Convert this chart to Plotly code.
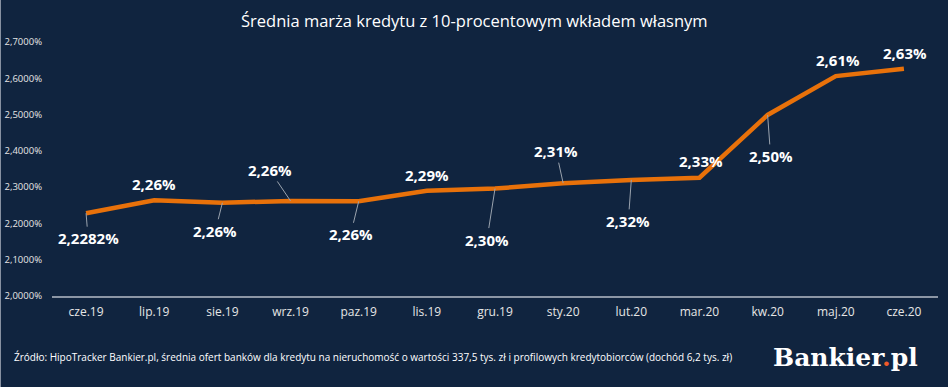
import plotly.graph_objects as go

categories = ["cze.19", "lip.19", "sie.19", "wrz.19", "paz.19", "lis.19", "gru.19",
              "sty.20", "lut.20", "mar.20", "kw.20", "maj.20", "cze.20"]
values = [2.2282, 2.264, 2.257, 2.262, 2.261, 2.290, 2.296, 2.311, 2.320, 2.326, 2.499, 2.606, 2.626]
labels = ["2,2282%", "2,26%", "2,26%", "2,26%", "2,26%", "2,29%", "2,30%",
          "2,31%", "2,32%", "2,33%", "2,50%", "2,61%", "2,63%"]
y_tick_vals = [2.0, 2.1, 2.2, 2.3, 2.4, 2.5, 2.6, 2.7]
y_tick_text = ["2,0000%", "2,1000%", "2,2000%", "2,3000%", "2,4000%", "2,5000%", "2,6000%", "2,7000%"]

# label placement (pixel offsets from point to label centre, leader line flag)
label_offsets = [(2, 25, True), (0, -16, False), (-7, 28, True), (-21, -31, True),
                 (-8, 33, True), (0, -16, False), (-8, 51, True), (-7, -32, True),
                 (-3, 41, True), (2, -17, False), (3, 41, True), (2, -16, False),
                 (1, -16, False)]

BG = "#10243F"
ORANGE = "#E8710A"

fig = go.Figure()
fig.add_trace(go.Scatter(
    x=categories, y=values, mode="lines",
    line=dict(color=ORANGE, width=4.5), hoverinfo="skip", showlegend=False,
))

for cat, val, lab, (dx, dy, leader) in zip(categories, values, labels, label_offsets):
    if leader:
        fig.add_annotation(x=cat, y=val, text=lab, showarrow=True, ax=dx, ay=dy,
                           arrowhead=0, arrowwidth=1, arrowcolor="#9AA3AE", standoff=0,
                           font=dict(family="Open Sans", size=15, color="white", weight="bold"))
    else:
        fig.add_annotation(x=cat, y=val, text=lab, showarrow=False, xshift=dx, yshift=-dy,
                           font=dict(family="Open Sans", size=15, color="white", weight="bold"))

fig.add_annotation(xref="paper", yref="paper", x=0.5, y=1, xanchor="center", yanchor="middle",
                   text="Średnia marża kredytu z 10-procentowym wkładem własnym", showarrow=False,
                   yshift=22, xshift=-21, font=dict(family="Open Sans", size=16.5, color="white"))

fig.add_annotation(xref="paper", yref="paper", x=-0.045, y=0, xanchor="left", yanchor="middle",
                   yshift=-61, showarrow=False,
                   text="Źródło: HipoTracker Bankier.pl, średnia ofert banków dla kredytu na nieruchomość o wartości 337,5 tys. zł i profilowych kredytobiorców (dochód 6,2 tys. zł)",
                   font=dict(family="Open Sans", size=10, color="white"))

fig.add_annotation(xref="paper", yref="paper", x=1, y=0, xanchor="right", yanchor="middle",
                   yshift=-61, xshift=-18, showarrow=False,
                   text="Bankier<span style='color:#F05A28'>.</span>pl",
                   font=dict(family="DejaVu Serif", size=25, color="white", weight="bold"))

fig.update_layout(
    width=948, height=387,
    paper_bgcolor=BG, plot_bgcolor=BG,
    margin=dict(l=52, r=10, t=42, b=91, autoexpand=False),
    xaxis=dict(showgrid=False, showline=True, linecolor="#8C96A5", linewidth=1.5,
               ticks="", tickfont=dict(family="Open Sans", size=12, color="#E6E6E6"),
               range=[-0.5, 12.5], zeroline=False, automargin=False, ticklabelstandoff=4),
    yaxis=dict(showgrid=False, range=[2.0, 2.7], tickvals=y_tick_vals, ticktext=y_tick_text,
               tickfont=dict(family="Open Sans", size=9.5, color="#E6E6E6"), zeroline=False,
               ticklabelstandoff=9, automargin=False),
    shapes=[dict(type="rect", xref="paper", yref="paper", x0=-0.0587, x1=-0.0576, y0=-0.5, y1=1.3,
                 line=dict(width=0), fillcolor="#8C96A5")],
)

fig.write_html("out.html", config={"displayModeBar": False},
               post_script="document.body.style.margin='0';document.body.style.padding='0';document.body.style.overflow='hidden';")
